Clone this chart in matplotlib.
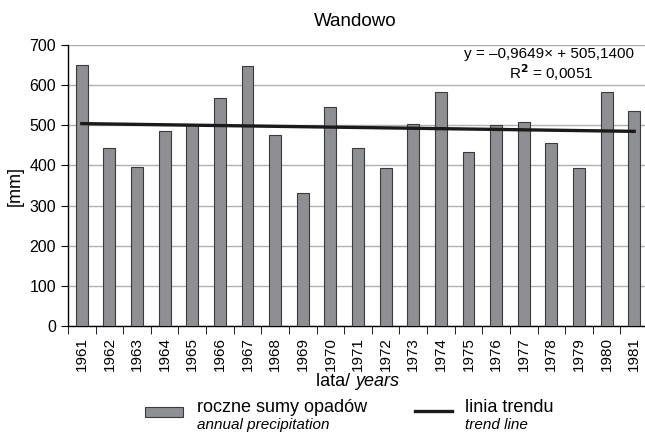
import numpy as np
import matplotlib
matplotlib.use('Agg')
import matplotlib.pyplot as plt
from matplotlib.patches import Rectangle
from matplotlib.lines import Line2D

plt.rcParams['font.family'] = ['Liberation Sans', 'DejaVu Sans']

years = [str(y) for y in range(1961, 1982)]
precip = [650, 443, 397, 486, 500, 568, 647, 476, 331, 546, 443,
          394, 503, 582, 433, 500, 507, 457, 394, 582, 536]
slope = -0.9649
intercept = 505.14
r2_text = '0,0051'

fig = plt.figure(figsize=(6.45, 4.34), dpi=100)
ax = fig.add_axes([68/645, 1 - 326/434, 580/645, (326 - 45)/434])

x = np.arange(len(years))
ax.bar(x, precip, width=0.43, color='#8e8f93', edgecolor='#3a3a3a', linewidth=0.8, zorder=3)
trend = intercept + slope * (x + 1)
ax.plot(x, trend, color='#1a1a1a', linewidth=2.4, zorder=4)

ax.set_xlim(-0.5, len(years) - 0.5)
ax.set_ylim(0, 700)
ax.set_yticks(range(0, 701, 100))
ax.yaxis.grid(True, color='#b0b0b0', linewidth=1.0, zorder=0)
ax.tick_params(axis='y', labelsize=11.5, length=5, direction='out')
ax.set_xticks(x)
ax.set_xticklabels(years, rotation=90, fontsize=11)
ax.tick_params(axis='x', length=0, pad=8)
ax.set_xticks(np.arange(-0.5, len(years), 1), minor=True)
ax.tick_params(axis='x', which='minor', length=6, direction='out')
for s in ['top', 'right']:
    ax.spines[s].set_visible(False)
ax.spines['left'].set_linewidth(1.0)
ax.spines['bottom'].set_linewidth(1.0)

ax.set_ylabel('[mm]', fontsize=13, labelpad=4)
fig.text(634/645, 1 - 54/434, 'y = \u20130,9649\u00d7 + 505,1400',
         ha='right', va='center', fontsize=11)
fig.text(593/645, 1 - 73/434, 'R$^\\mathbf{2}$ = ' + r2_text,
         ha='right', va='center', fontsize=11)

fig.text(355/645, 1 - 22/434, 'Wandowo', ha='center', va='center', fontsize=13.5)
fig.text(355/645, 1 - 381/434, 'lata/ ', ha='right', va='center', fontsize=13)
fig.text(355/645, 1 - 381/434, 'years', ha='left', va='center', fontsize=13, style='italic')

# legend
fig.patches.append(Rectangle((145/645, 1 - 417/434), 38/645, 10/434, transform=fig.transFigure,
                             facecolor='#8e8f93', edgecolor='#3a3a3a', linewidth=0.8))
fig.text(197/645, 1 - 408/434, 'roczne sumy opadów', ha='left', va='center', fontsize=13)
fig.text(197/645, 1 - 425/434, 'annual precipitation', ha='left', va='center', fontsize=11, style='italic')
fig.lines.append(Line2D([415/645, 452/645], [1 - 411/434, 1 - 411/434], transform=fig.transFigure,
                        color='#1a1a1a', linewidth=2.4))
fig.text(465/645, 1 - 408/434, 'linia trendu', ha='left', va='center', fontsize=13)
fig.text(465/645, 1 - 425/434, 'trend line', ha='left', va='center', fontsize=11, style='italic')

fig.savefig('out.png', dpi=100)
